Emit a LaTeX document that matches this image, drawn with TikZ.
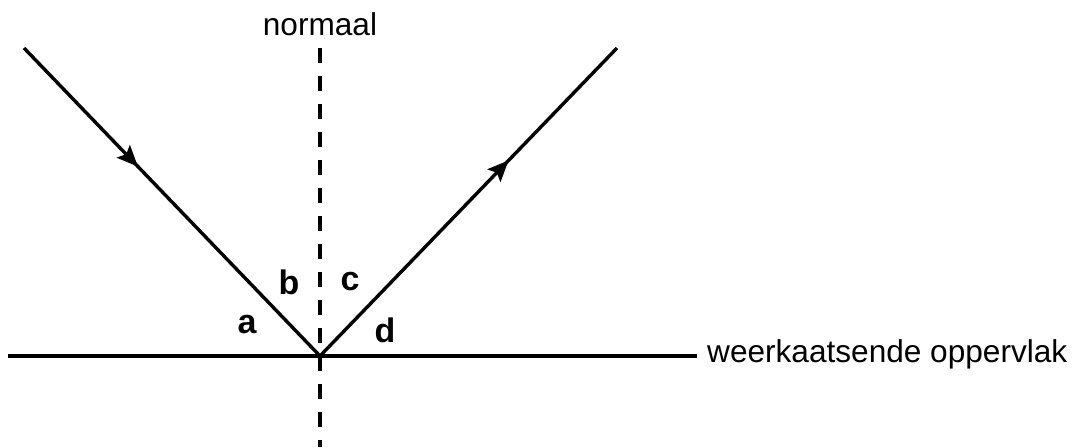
\documentclass[tikz,border=0pt]{standalone}
\usepackage{fontspec}
\setmainfont{Liberation Sans}
\usetikzlibrary{arrows.meta,decorations.markings}
\begin{document}
\begin{tikzpicture}[x=1pt,y=-1pt,
  ray/.style={line width=3.4pt},
  normalline/.style={line width=3.6pt,dash pattern=on 15pt off 13pt},
  lbl/.style={font=\fontsize{34}{38}\selectfont\bfseries,anchor=base,inner sep=0pt},
  txt/.style={font=\fontsize{31.6}{36}\selectfont,inner sep=0pt},
  midarrow/.style={postaction={decorate},decoration={markings,
     mark=at position #1 with {\arrow{Stealth[length=21pt,width=18pt,inset=4pt]}}}}
]
\useasboundingbox (0,0) rectangle (1081,447);
\coordinate (O) at (320,356);
\coordinate (A) at (24,48);
\coordinate (B) at (617,48);
\coordinate (L) at (8,356);
\coordinate (R) at (697,356);
\coordinate (N1) at (320,48);
\coordinate (N2) at (320,447);
\draw[normalline] (N1) -- (N2);
\draw[ray] (L) -- (R);
\draw[ray,midarrow=0.385] (A) -- (O);
\draw[ray,midarrow=0.635] (O) -- (B);
\node[txt,anchor=base] (nlab) at (320,35) {normaal};
\node[txt,anchor=base west] (slab) at (707,362) {weerkaatsende oppervlak};
\node[lbl] (a) at (247,333) {a};
\node[lbl] (b) at (289,294) {b};
\node[lbl] (c) at (350,290) {c};
\node[lbl] (d) at (385,342) {d};
\end{tikzpicture}
\end{document}
